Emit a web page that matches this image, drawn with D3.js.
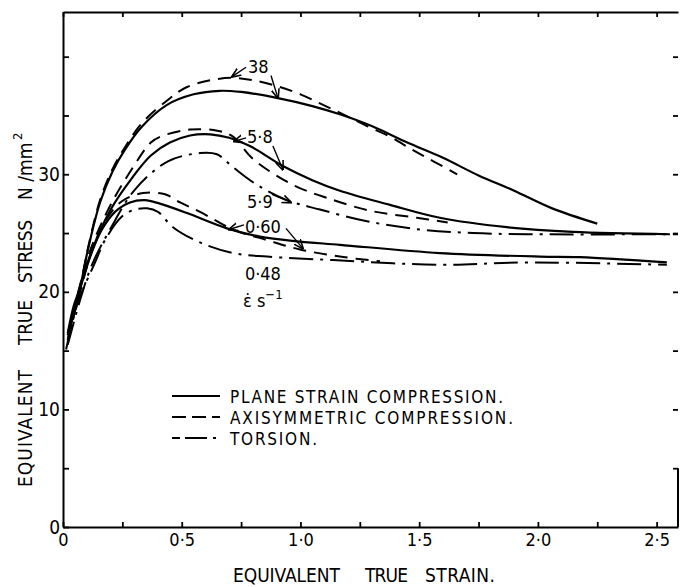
<!DOCTYPE html>
<html>
<head>
<meta charset="utf-8">
<script src="https://cdn.jsdelivr.net/npm/d3@7/dist/d3.min.js"></script>
<style>
body { margin: 0; background: #fff; }
text { font-family: "DejaVu Sans Condensed", "DejaVu Sans", sans-serif; fill: #000; }
</style>
</head>
<body>
<svg id="chart" width="680" height="587"></svg>
<script>
// [equivalent true strain, equivalent true stress N/mm2]
const psc38 = [[0.02,16.5],[0.045,18.8],[0.072,20.4],[0.105,23.6],[0.156,27.6],[0.21,30.3],[0.261,32.1],[0.33,34.0],[0.438,35.9],[0.55,36.8],[0.66,37.1],[0.75,37.0],[0.9,36.5],[1.05,35.8],[1.166,35.1],[1.3,34.1],[1.45,32.7],[1.6,31.4],[1.75,29.9],[1.9,28.6],[2.06,27.1],[2.25,25.8]];
const axi38 = [[0.02,16.5],[0.07,20.3],[0.105,23.7],[0.156,27.8],[0.21,30.5],[0.261,32.3],[0.33,34.3],[0.44,36.3],[0.52,37.4],[0.62,38.0],[0.716,38.2],[0.8,38.0],[0.9,37.5],[1.0,36.8],[1.095,35.9],[1.18,35.1],[1.28,34.1],[1.377,33.2],[1.47,32.1],[1.56,31.1],[1.66,30.0]];
const psc58 = [[0.02,16.3],[0.063,19.7],[0.114,23.1],[0.198,26.9],[0.295,29.8],[0.37,31.6],[0.45,32.7],[0.535,33.3],[0.62,33.4],[0.7,33.1],[0.787,32.4],[0.926,30.7],[1.05,29.5],[1.166,28.6],[1.377,27.4],[1.587,26.3],[1.869,25.5],[2.147,25.1],[2.556,24.9]];
const axi58 = [[0.02,16.3],[0.063,19.9],[0.114,23.5],[0.198,27.3],[0.295,30.6],[0.37,32.7],[0.41,33.2],[0.535,33.8],[0.65,33.7],[0.716,33.2],[0.8,31.3],[0.968,29.1],[1.11,28.0],[1.293,26.9],[1.49,26.3],[1.62,25.9]];
const tor59 = [[0.02,15.5],[0.072,19.3],[0.122,22.3],[0.198,25.3],[0.303,28.7],[0.442,31.1],[0.577,31.8],[0.648,31.7],[0.716,30.6],[0.817,29.1],[0.943,27.8],[1.082,27.0],[1.28,26.0],[1.503,25.3],[1.726,25.0],[1.954,24.9],[2.59,24.9]];
const psc060 = [[0.02,15.9],[0.05,18.6],[0.08,20.8],[0.122,23.4],[0.164,25.3],[0.219,26.8],[0.282,27.6],[0.345,27.8],[0.408,27.5],[0.522,26.7],[0.69,25.4],[0.829,24.7],[0.985,24.3],[1.166,24.0],[1.587,23.3],[2.008,23.0],[2.177,22.95],[2.543,22.5]];
const axi060 = [[0.02,15.9],[0.072,20.0],[0.122,23.5],[0.177,26.0],[0.248,27.7],[0.337,28.4],[0.43,28.3],[0.493,27.6],[0.577,26.8],[0.716,25.3],[0.859,24.4],[0.998,23.6],[1.166,23.0],[1.335,22.6]];
const tor048 = [[0.013,15.1],[0.063,19.1],[0.135,22.5],[0.177,24.4],[0.248,26.4],[0.303,27.0],[0.354,27.1],[0.4,26.8],[0.463,25.5],[0.577,24.2],[0.716,23.3],[0.859,23.0],[1.137,22.7],[1.587,22.3],[1.954,22.5],[2.543,22.3]];

const xTicks = [0, 0.25, 0.5, 0.75, 1.0, 1.25, 1.5, 1.75, 2.0, 2.25, 2.5];
const xLabels = ["0", "", "0·5", "", "1·0", "", "1·5", "", "2·0", "", "2·5"];
const yTicks = [0, 5, 10, 15, 20, 25, 30, 35, 40];
const yLabels = ["0", "", "10", "", "20", "", "30", "", ""];

const rateLabels = ["38", "5·8", "5·9", "0·60", "0·48"];
const ratePos = [[0.779, 38.6], [0.775, 32.7], [0.775, 27.1], [0.766, 25.0], [0.766, 21.0]];
// leader lines [x1, y1, x2, y2] in data units
const leaders = [[0.771,39.1,0.712,38.3],[0.876,38.4,0.905,36.5],[0.771,33.1,0.72,32.8],[0.884,32.4,0.926,30.4],[0.88,28.3,0.96,27.6],[0.762,25.7,0.699,25.3],[0.939,25.4,1.01,23.7]];

const legendLabels = ["PLANE STRAIN COMPRESSION.", "AXISYMMETRIC COMPRESSION.", "TORSION."];

const svg = d3.select("#chart");
const x = d3.scaleLinear().domain([0, 2.59]).range([63, 678]);
const y = d3.scaleLinear().domain([0, 43.8]).range([527, 12]);

const dashFor = { solid: null, dashed: "13,8", dashdot: "24,7,3,7" };
const series = [
    { data: psc38, style: "solid" }, { data: axi38, style: "dashed" },
    { data: psc58, style: "solid" }, { data: axi58, style: "dashed" }, { data: tor59, style: "dashdot" },
    { data: psc060, style: "solid" }, { data: axi060, style: "dashed" }, { data: tor048, style: "dashdot" }
];

svg.append("defs").append("marker")
    .attr("id", "head").attr("viewBox", "0 0 10 10")
    .attr("refX", 9).attr("refY", 5)
    .attr("markerWidth", 7).attr("markerHeight", 7)
    .attr("orient", "auto")
    .append("path").attr("d", "M0,1 L10,5 L0,9").attr("fill", "none").attr("stroke", "#000").attr("stroke-width", 1.6);

// axes
const fmtX = d => xLabels[xTicks.indexOf(d)];
const fmtY = d => yLabels[yTicks.indexOf(d)];

function styleAxis(g) {
    g.selectAll("path.domain").attr("stroke", "#000").attr("stroke-width", 2);
    g.selectAll(".tick line").attr("stroke", "#000").attr("stroke-width", 1.8);
    g.attr("font-family", null).attr("font-size", 18);
}

svg.append("g").attr("transform", `translate(0,${ y(0) })`)
    .call(d3.axisBottom(x).tickValues(xTicks).tickSize(-5).tickSizeOuter(0).tickPadding(6).tickFormat(fmtX))
    .call(styleAxis);
svg.append("g").attr("transform", `translate(${ x(0) },0)`)
    .call(d3.axisLeft(y).tickValues(yTicks).tickSize(-6).tickSizeOuter(0).tickPadding(3).tickFormat(fmtY))
    .call(styleAxis)
    .attr("font-size", 19);
svg.append("g").attr("transform", `translate(0,${ y(43.8) })`)
    .call(d3.axisTop(x).tickValues(xTicks).tickSize(-5).tickSizeOuter(0).tickFormat(""))
    .call(styleAxis);
const right = svg.append("g").attr("transform", `translate(${ x(2.59) },0)`)
    .call(d3.axisRight(y).tickValues(yTicks.slice(1)).tickSize(-5).tickSizeOuter(0).tickFormat(""))
    .call(styleAxis);
right.select("path.domain").remove();
right.append("line").attr("y1", y(5)).attr("y2", y(0)).attr("stroke", "#000").attr("stroke-width", 2);

// curves
const line = d3.line().x(d => x(d[0])).y(d => y(d[1])).curve(d3.curveCatmullRom.alpha(0.5));
svg.append("g").selectAll("path").data(series).join("path")
    .attr("d", d => line(d.data))
    .attr("fill", "none").attr("stroke", "#000")
    .attr("stroke-width", d => d.style === "solid" ? 2.2 : 2)
    .attr("stroke-dasharray", d => dashFor[d.style]);

// strain-rate labels and leaders
svg.append("g").selectAll("text").data(rateLabels).join("text")
    .attr("x", (d, i) => x(ratePos[i][0])).attr("y", (d, i) => y(ratePos[i][1]))
    .attr("font-size", 18).text(d => d);
svg.append("g").selectAll("line").data(leaders).join("line")
    .attr("x1", d => x(d[0])).attr("y1", d => y(d[1]))
    .attr("x2", d => x(d[2])).attr("y2", d => y(d[3]))
    .attr("stroke", "#000").attr("stroke-width", 1.4)
    .attr("marker-end", "url(#head)");
const unit = svg.append("text").attr("x", x(0.758)).attr("y", y(18.7)).attr("font-size", 18);
unit.append("tspan").text("ε̇ s");
unit.append("tspan").attr("dy", -8).attr("font-size", 13).text("−1");

// legend
const legend = svg.append("g");
const legendStyles = ["solid", "dashed", "dashdot"];
const legendDash = [null, "14,6", "8,5,22,6,3,30"];
const legendWidth = [273, 283, 87];
legendLabels.forEach((label, i) => {
    const ly = 396 + i * 21;
    legend.append("line").attr("x1", 172).attr("x2", 220).attr("y1", ly).attr("y2", ly)
        .attr("stroke", "#000").attr("stroke-width", legendStyles[i] === "solid" ? 2.2 : 2)
        .attr("stroke-dasharray", legendDash[i]);
    legend.append("text").attr("x", 230).attr("y", ly + 7).attr("font-size", 17)
        .attr("textLength", legendWidth[i]).attr("lengthAdjust", "spacing").text(label);
});

// axis titles
const xTitle = [["EQUIVALENT", 233, 107], ["TRUE", 365, 43], ["STRAIN.", 425, 70]];
xTitle.forEach(([t, px, w]) => {
    svg.append("text").attr("x", px).attr("y", 582).attr("font-size", 19)
        .attr("textLength", w).attr("lengthAdjust", "spacing").text(t);
});
const yTitle = [["EQUIVALENT", 487, 117], ["TRUE", 345, 45], ["STRESS", 283, 63]];
yTitle.forEach(([t, py, w]) => {
    svg.append("text").attr("transform", `translate(32,${ py }) rotate(-90)`).attr("font-size", 19)
        .attr("textLength", w).attr("lengthAdjust", "spacing").text(t);
});
svg.append("text").attr("transform", "translate(32,200) rotate(-90)").attr("font-size", 19).text("N /mm");
svg.append("text").attr("transform", "translate(22,140) rotate(-90)").attr("font-size", 13).text("2");
</script>
</body>
</html>
